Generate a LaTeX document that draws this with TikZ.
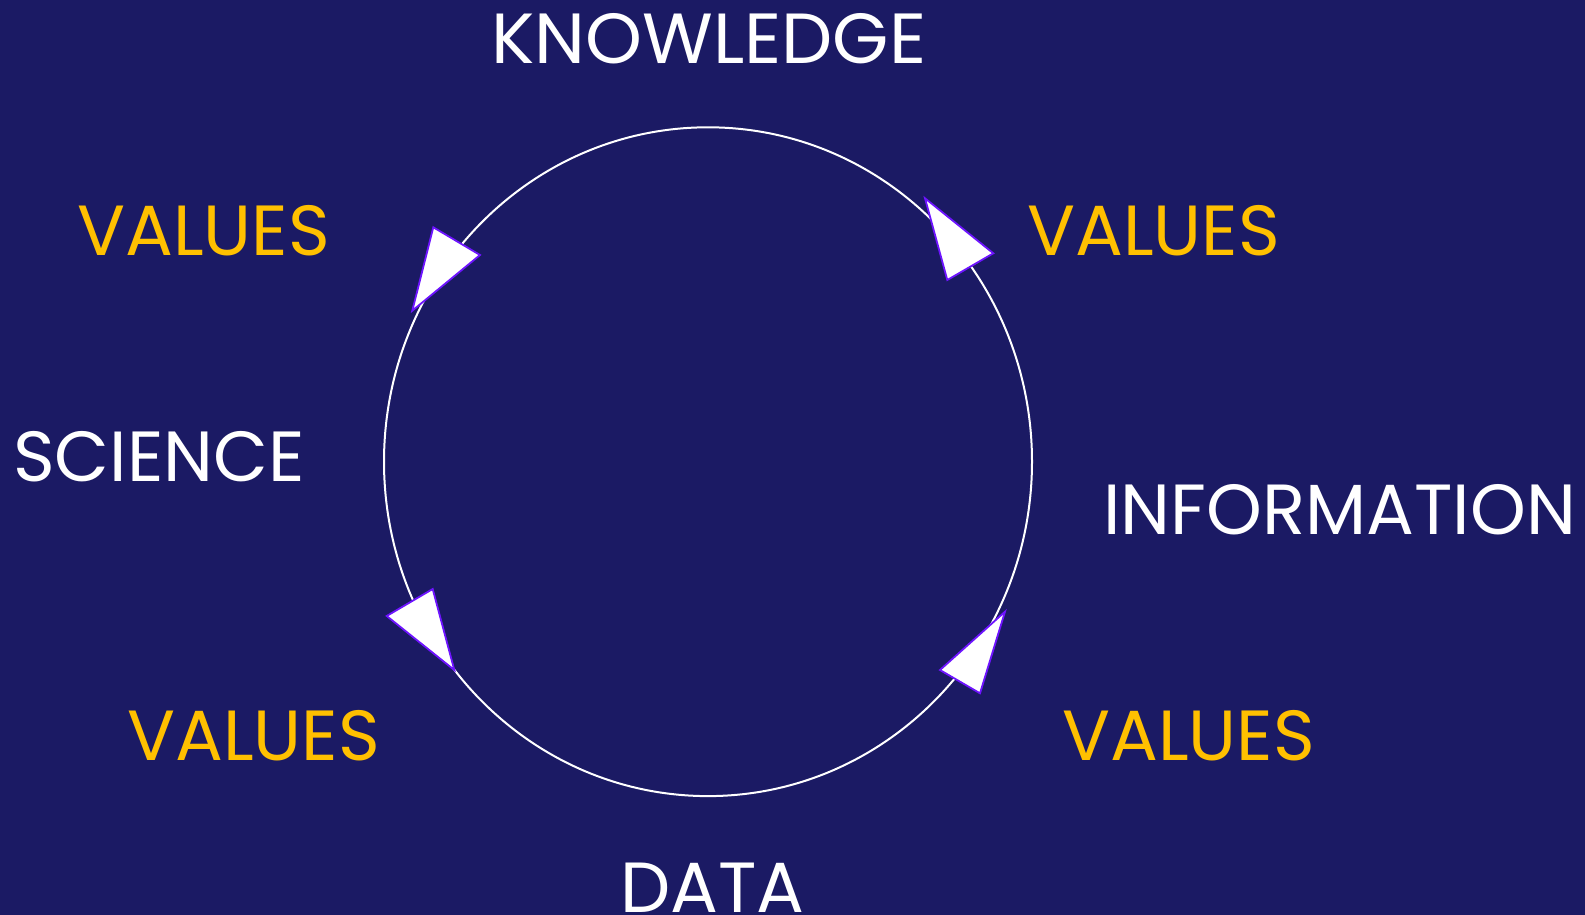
\documentclass[tikz,border=0pt]{standalone}
\usepackage{fontspec}
\setmainfont{Poppins}
\definecolor{navy}{RGB}{27,26,100}
\definecolor{gold}{RGB}{255,192,0}
\definecolor{violetline}{RGB}{110,20,255}

\begin{document}
\begin{tikzpicture}[
  x=1pt, y=-1pt,
  stage/.style={text=white, font=\fontsize{71}{80}\selectfont,
                inner sep=0pt, anchor=base west},
  val/.style={stage, text=gold},
  head/.style={draw=violetline, fill=white, line width=1.8pt, line join=miter}
]
  % Background
  \fill[navy] (0,0) rectangle (1585,915);
  \useasboundingbox (0,0) rectangle (1585,915);

  % Cycle
  \draw[white, line width=2pt] (708,461.7) ellipse [x radius=324, y radius=334.4];

  % Arrow heads on the cycle
  \draw[head] (433.3,227.3) -- (480,255) -- (412.3,310.7) -- cycle;
  \draw[head] (925,198.3) -- (993.3,253.3) -- (947.3,280) -- cycle;
  \draw[head] (386.7,616) -- (432.7,589) -- (454.3,670) -- cycle;
  \draw[head] (1005,611.7) -- (940,670) -- (980,693.3) -- cycle;

  % Stages
  \node[stage, xscale=1.02] (know) at (491,64) {KNOWLEDGE};
  \node[stage] (info) at (1103,534) {INFORMATION};
  \node[stage] (data) at (620,912)  {DATA};
  \node[stage] (sci)  at (13,481)   {SCIENCE};

  % Values
  \node[val] (valtl) at (77,255)   {VALUES};
  \node[val] (valtr) at (1027,255) {VALUES};
  \node[val] (valbl) at (127,760)  {VALUES};
  \node[val] (valbr) at (1062,760) {VALUES};
\end{tikzpicture}
\end{document}
